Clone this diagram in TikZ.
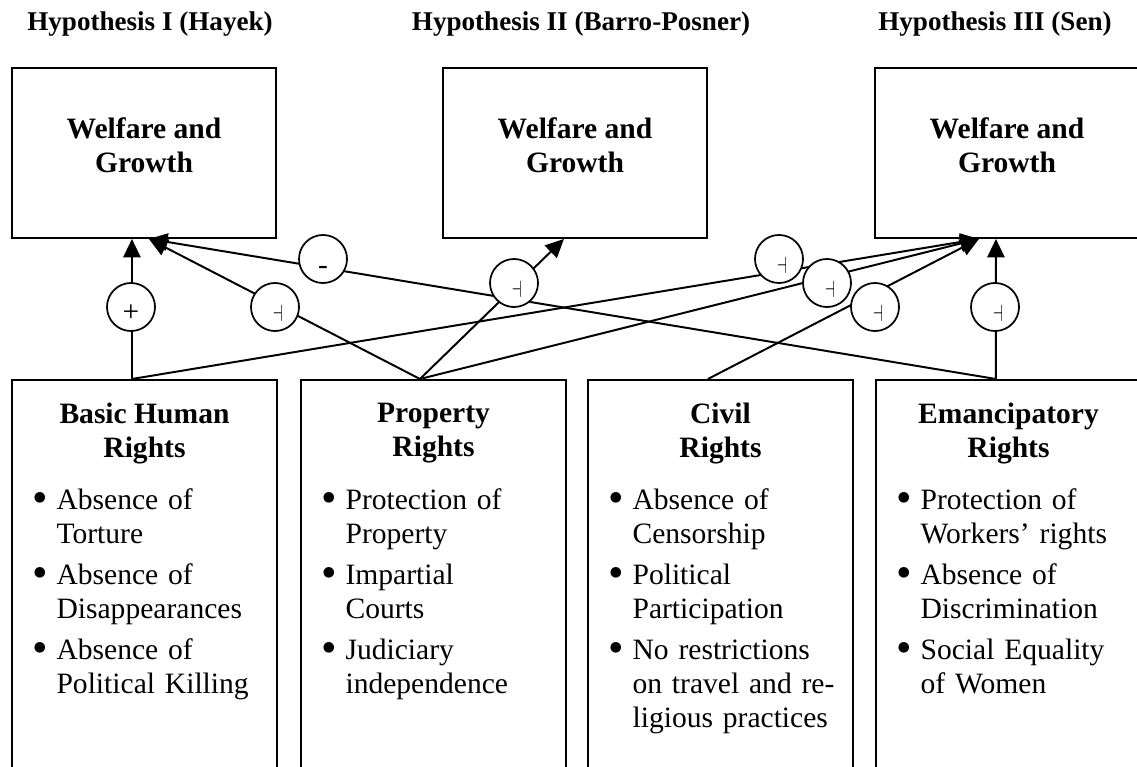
\documentclass[tikz,border=0pt]{standalone}
\usepackage{fontspec}
\usepackage{graphicx}
\setmainfont{Liberation Serif}
\usetikzlibrary{positioning,arrows.meta}

\tikzset{
  wbox/.style={draw, line width=0.8pt, minimum width=107.2pt, minimum height=69pt, inner sep=0pt, anchor=north west},
  rbox/.style={draw, line width=0.8pt, minimum width=107.6pt, minimum height=170pt, inner sep=0pt, anchor=north west},
  hyp/.style={font=\fontsize{11pt}{13pt}\selectfont\bfseries, anchor=base, inner sep=0pt},
  wtext/.style={font=\fontsize{12pt}{13.8pt}\selectfont\bfseries, align=center, inner sep=0pt},
  rtitle/.style={font=\fontsize{12pt}{13.8pt}\selectfont\bfseries, align=center, inner sep=0pt},
  rlist/.style={font=\fontsize{12pt}{13.8pt}\selectfont, text width=95pt, inner sep=0pt,
    execute at begin node={\setlength{\parskip}{2.8pt}}},
  sign/.style={circle, draw, fill=white, line width=0.7pt, minimum size=19.5pt, inner sep=0pt},
  symb/.style={font=\fontsize{12pt}{13.8pt}\selectfont, inner sep=0pt},
  link/.style={line width=0.8pt, -{Triangle[length=7.5pt,width=7pt]}},
}
\newcommand{\rbul}[1]{\noindent\hangindent=9.6pt\hangafter=1\makebox[9.6pt][l]{\raisebox{-1.2pt}{\scalebox{1.5}{\textbullet}}}#1\par}
\newcommand{\tack}{\scalebox{0.55}[0.8]{$\dashv$}}

\begin{document}
\begin{tikzpicture}[x=0.406pt, y=-0.406pt]
  \useasboundingbox (0,0) rectangle (1137,767);
  \clip (0,0) rectangle (1137,767);
  % hypotheses
  \node[hyp] (hypI) at (150,31) {Hypothesis I (Hayek)};
  \node[hyp] (hypII) at (581,31) {Hypothesis II (Barro-Posner)};
  \node[hyp] (hypIII) at (995,31) {Hypothesis III (Sen)};
  \node[wbox] (hayek) at (11,67) {};
  \node[wbox] (barro) at (442,67) {};
  \node[wbox] (sen) at (874,67) {};
  \foreach \b in {hayek,barro,sen}
    \node[wtext] at ([yshift=3pt]\b.center) {Welfare and\\Growth};
  % rights
  \node[rbox] (basic) at (11,379) {};
  \node[rbox] (prop) at (300,379) {};
  \node[rbox] (civil) at (587,379) {};
  \node[rbox] (emanc) at (875,379) {};
  \node[rtitle, below=9.7pt of basic.north] (basicT) {Basic Human\\Rights};
  \node[rtitle, below=9.7pt of prop.north] (propT) {Property\\Rights};
  \node[rtitle, below=9.7pt of civil.north] (civilT) {Civil\\Rights};
  \node[rtitle, below=9.7pt of emanc.north] (emancT) {Emancipatory\\Rights};
  \node[rlist, below right=44.3pt and 8.7pt of basic.north west] (basicL)
    {\rbul{Absence of\newline Torture}\rbul{Absence of\newline Disappearances}\rbul{Absence of\newline Political Killing}};
  \node[rlist, below right=44.3pt and 8.7pt of prop.north west] (propL)
    {\rbul{Protection of\newline Property}\rbul{Impartial\newline Courts}\rbul{Judiciary\newline independence}};
  \node[rlist, below right=44.3pt and 8.7pt of civil.north west] (civilL)
    {\rbul{Absence of\newline Censorship}\rbul{Political\newline Participation}\rbul{No restrictions\newline on travel and re-\newline ligious practices}};
  \node[rlist, below right=44.3pt and 8.7pt of emanc.north west] (emancL)
    {\rbul{Protection of\newline Workers’ rights}\rbul{Absence of\newline Discrimination}\rbul{Social Equality\newline of Women}};
  % end points
  \coordinate (bS) at ([xshift=-5.1pt]basic.north);
  \coordinate (pS) at ([xshift=-5.5pt]prop.north);
  \coordinate (cS) at ([xshift=-5.1pt]civil.north);
  \coordinate (eS) at ([xshift=-5.1pt]emanc.north);
  \coordinate (hV) at ([xshift=-4.9pt]hayek.south);
  \coordinate (hD) at ([xshift=2pt]hayek.south);
  \coordinate (bT) at ([xshift=-4.5pt]barro.south);
  \coordinate (sD) at ([xshift=-11.4pt]sen.south);
  \coordinate (sV) at ([xshift=-4.5pt]sen.south);
  \draw[link] (bS) -- (hV);
  \draw[link] (pS) -- (hD);
  \draw[link] (eS) -- (hD);
  \draw[link] (pS) -- (bT);
  \draw[link] (bS) -- (sD);
  \draw[link] (pS) -- (sD);
  \draw[link] (cS) -- (sD);
  \draw[link] (eS) -- (sV);
  % signs
  \node[sign, label={[symb, yshift=-2.4pt]center:+}] (plus) at (131,307) {};
  \node[sign, label={[symb, yshift=-4.8pt]center:-}] (minus) at (323,259) {};
  \foreach \n/\x/\y in {tA/275/307, tB/514/283, tC/779/259, tD/827/283, tE/875/307, tF/995/307}
    \node[sign, label={[symb, xshift=1.2pt, yshift=-2.4pt]center:\tack}] (\n) at (\x,\y) {};
\end{tikzpicture}
\end{document}
